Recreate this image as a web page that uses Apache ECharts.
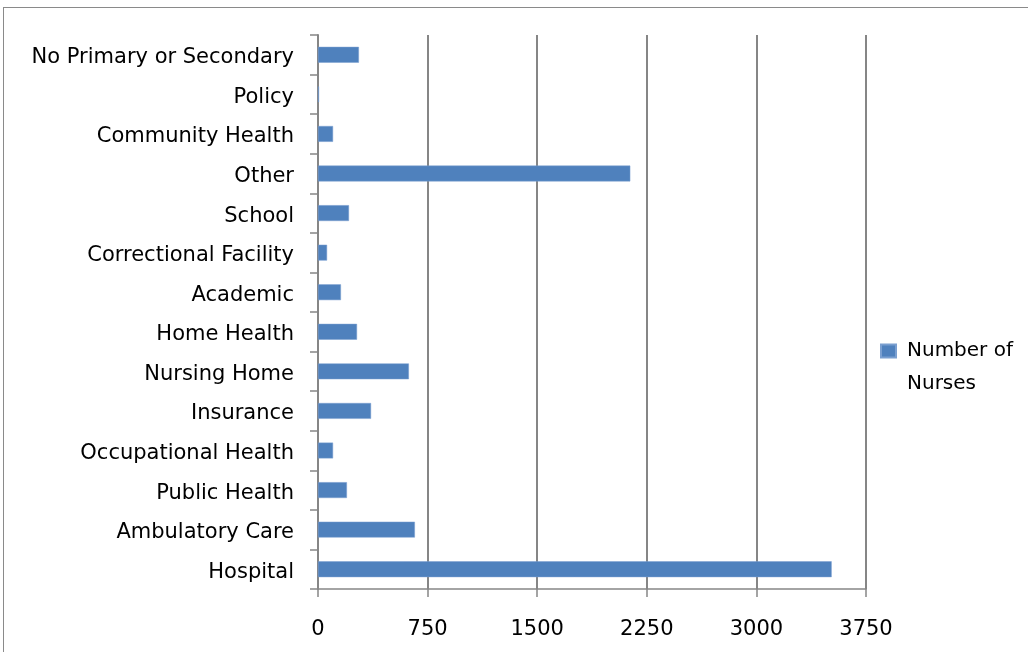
<!DOCTYPE html>
<html>
<head>
<meta charset="utf-8">
<script src="https://cdn.jsdelivr.net/npm/echarts@6/dist/echarts.min.js"></script>
<style>
html,body{margin:0;padding:0;background:#fff;}
#frame{position:absolute;left:3px;top:7px;width:1040px;height:660px;border:1.5px solid #8a8a8a;box-sizing:border-box;}
#chart{position:absolute;left:0;top:0;width:1028px;height:652px;}
</style>
</head>
<body>
<div id="frame"></div>
<div id="chart"></div>
<script>
const categories = ["Hospital","Ambulatory Care","Public Health","Occupational Health","Insurance","Nursing Home","Home Health","Academic","Correctional Facility","School","Other","Community Health","Policy","No Primary or Secondary"];
const nurses = [3515, 663, 198, 103, 363, 622, 267, 157, 62, 212, 2137, 103, 7, 280];
const xTicks = [0, 750, 1500, 2250, 3000, 3750];
const seriesName = "Number of Nurses";

const chart = echarts.init(document.getElementById('chart'));
const font = "'DejaVu Sans', 'Noto Sans', sans-serif";
chart.setOption({
  animation: false,
  textStyle: {fontFamily: font},
  grid: {left: 318, right: 162, top: 35, bottom: 63, containLabel: false},
  legend: {
    orient: 'vertical',
    left: 875, top: 297,
    itemWidth: 15, itemHeight: 13,
    icon: 'rect',
    formatter: () => '{p|}\n{t|Number of}\n{t|Nurses}',
    textStyle: {
      fontSize: 20, color: '#000', fontFamily: font,
      rich: {
        p: {height: 32, lineHeight: 32, fontSize: 20},
        t: {fontSize: 20, lineHeight: 33, height: 33, padding: [0,0,0,6], color: '#000', fontFamily: font}
      }
    },
    data: [seriesName]
  },
  xAxis: {
    type: 'value',
    min: xTicks[0], max: xTicks[xTicks.length-1], interval: 750,
    axisLine: {show: true, lineStyle: {color: '#868686', width: 1.5}},
    axisTick: {show: true, length: 8, lineStyle: {color: '#868686', width: 1.5}},
    splitLine: {show: true, lineStyle: {color: '#868686', width: 2}},
    axisLabel: {fontSize: 21, color: '#000', margin: 30, fontFamily: font, formatter: v => String(v)}
  },
  yAxis: {
    type: 'category',
    data: categories,
    axisLine: {show: true, lineStyle: {color: '#868686', width: 2}},
    axisTick: {show: true, length: 8, lineStyle: {color: '#868686', width: 1.5}},
    axisLabel: {
      color: '#000', margin: 24, fontFamily: font,
      formatter: v => '{a|' + v + '}',
      rich: {a: {fontSize: 21, color: '#000', fontFamily: font, padding: [6,0,0,0]}}
    }
  },
  series: [{
    name: seriesName,
    type: 'bar',
    data: nurses,
    barCategoryGap: '60%',
    itemStyle: {color: '#4F81BD', borderColor: '#7A9FD0', borderWidth: 0.5}
  }]
});
</script>
</body>
</html>
